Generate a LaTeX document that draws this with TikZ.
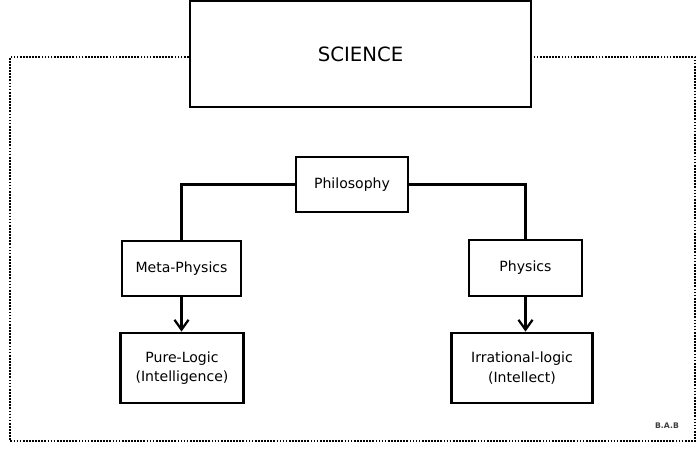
\documentclass[tikz,border=0pt]{standalone}
\usepackage{fontspec}
\setmainfont{DejaVu Sans}
\usepackage{tikz}
\usetikzlibrary{arrows.meta}
\usetikzlibrary{positioning, calc}

\begin{document}
\begin{tikzpicture}[x=0.025cm, y=-0.025cm,
                topicbox/.style={draw, line width=2pt, align=center, inner sep=0pt,
                    font=\fontsize{10}{14}\selectfont},
                link/.style={line width=1.6pt},
                down/.style={line width=1.6pt, -{Straight Barb[length=7pt,width=10pt,line width=1.6pt]}},
                frame/.style={line width=1.6pt, dash pattern=on 1.2pt off 1pt}]
                \useasboundingbox (0,0) rectangle (700,450);
                % Top box
                \node[topicbox, minimum width=341*0.025cm, minimum height=106*0.025cm,
                    font=\fontsize{14}{16}\selectfont] (science) at (360.5,54) {SCIENCE};
                % Middle and lower boxes
                \node[topicbox, minimum width=112*0.025cm, minimum height=55*0.025cm] (philo) at (352,184.5) {Philosophy};
                \node[topicbox, minimum width=119*0.025cm, minimum height=55*0.025cm] (meta) at (181.5,268.5) {Meta-Physics};
                \node[topicbox, minimum width=113*0.025cm, minimum height=56*0.025cm] (phys) at (525.5,268) {Physics};
                \node[topicbox, minimum width=123*0.025cm, minimum height=70*0.025cm] (pure) at (182,368) {Pure-Logic\\(Intelligence)};
                \node[topicbox, minimum width=141*0.025cm, minimum height=70*0.025cm] (irr) at (522,368) {Irrational-logic\\(Intellect)};
                \node[font=\fontsize{5.5}{6}\selectfont\bfseries, text=black!75] (sign) at (667,426) {B.A.B};
                % Dotted frame
                \coordinate (ftl) at (10,57);
                \coordinate (fbr) at (695,441);
                \draw[frame] (science.west |- ftl) -- (ftl) |- (fbr) |- (science.east |- ftl);
                % Connectors
                \draw[link] (philo.west) -| (meta.north);
                \draw[link] (philo.east) -| (phys.north);
                \draw[down] (meta.south) -- (meta.south |- pure.north);
                \draw[down] (phys.south) -- (phys.south |- irr.north);
            \end{tikzpicture}
\end{document}
